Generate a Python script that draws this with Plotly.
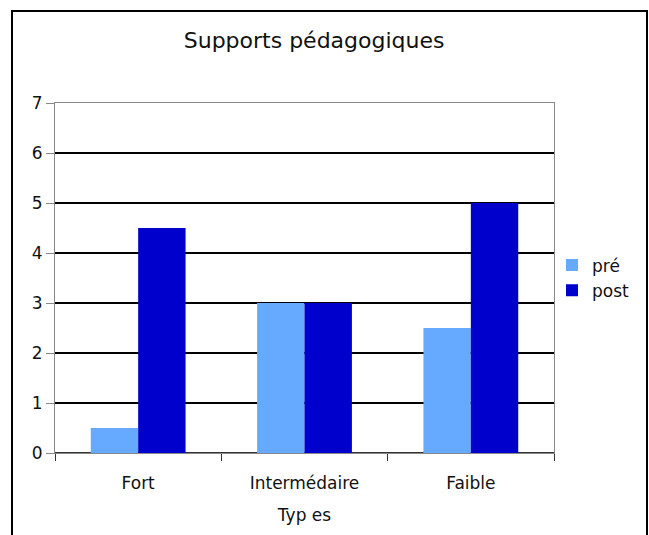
import plotly.graph_objects as go

categories = ["Fort", "Intermédaire", "Faible"]
pre_values = [0.5, 3, 2.5]
post_values = [4.5, 3, 5]

FONT = "DejaVu Sans"

fig = go.Figure()
fig.add_trace(go.Bar(x=categories, y=pre_values, name="pré", marker_color="#66AAFF",
                     marker_line_width=0))
fig.add_trace(go.Bar(x=categories, y=post_values, name="post", marker_color="#0000CC",
                     marker_line_width=0))

fig.update_layout(
    width=649, height=535,
    barmode="group", bargap=0.43, bargroupgap=0,
    plot_bgcolor="white", paper_bgcolor="white",
    font=dict(family=FONT, size=17, color="#111111"),
    title=dict(text="Supports pédagogiques", x=0.484, xanchor="center", y=0.925,
               yanchor="middle", font=dict(size=22, family=FONT, color="#111111")),
    margin=dict(l=55, r=95, t=103, b=82),
    legend=dict(x=0.996, y=0.5, xanchor="left", yanchor="middle",
                bgcolor="rgba(0,0,0,0)", font=dict(size=17)),
    showlegend=True,
)

fig.update_yaxes(
    range=[0, 7], dtick=1, showgrid=True, gridcolor="black", gridwidth=2,
    showline=True, linecolor="#888888", linewidth=1, mirror=True,
    ticks="outside", ticklen=8, tickcolor="#888888",
    zeroline=True, zerolinecolor="#333333", zerolinewidth=2,
    tickfont=dict(size=17), automargin=False,
)
fig.update_xaxes(
    showline=True, linecolor="#888888", linewidth=1, mirror=True,
    ticks="outside", tickson="boundaries", ticklen=7, tickcolor="#333333",
    tickfont=dict(size=17), ticklabelstandoff=15, automargin=False,
    title=dict(text="Typ es", font=dict(size=17), standoff=16),
)

# outer chart frame
fig.add_shape(type="rect", xref="paper", yref="paper",
              x0=-43 / 499, x1=592 / 499, y0=-0.5, y1=442 / 350,
              line=dict(color="black", width=2), fillcolor="rgba(0,0,0,0)", layer="below")

# no default body margin, so the 649x535 figure fills the window exactly
post = "document.body.style.margin='0';document.body.style.overflow='hidden';"
fig.write_html("out.html", config={"displayModeBar": False}, post_script=post)
